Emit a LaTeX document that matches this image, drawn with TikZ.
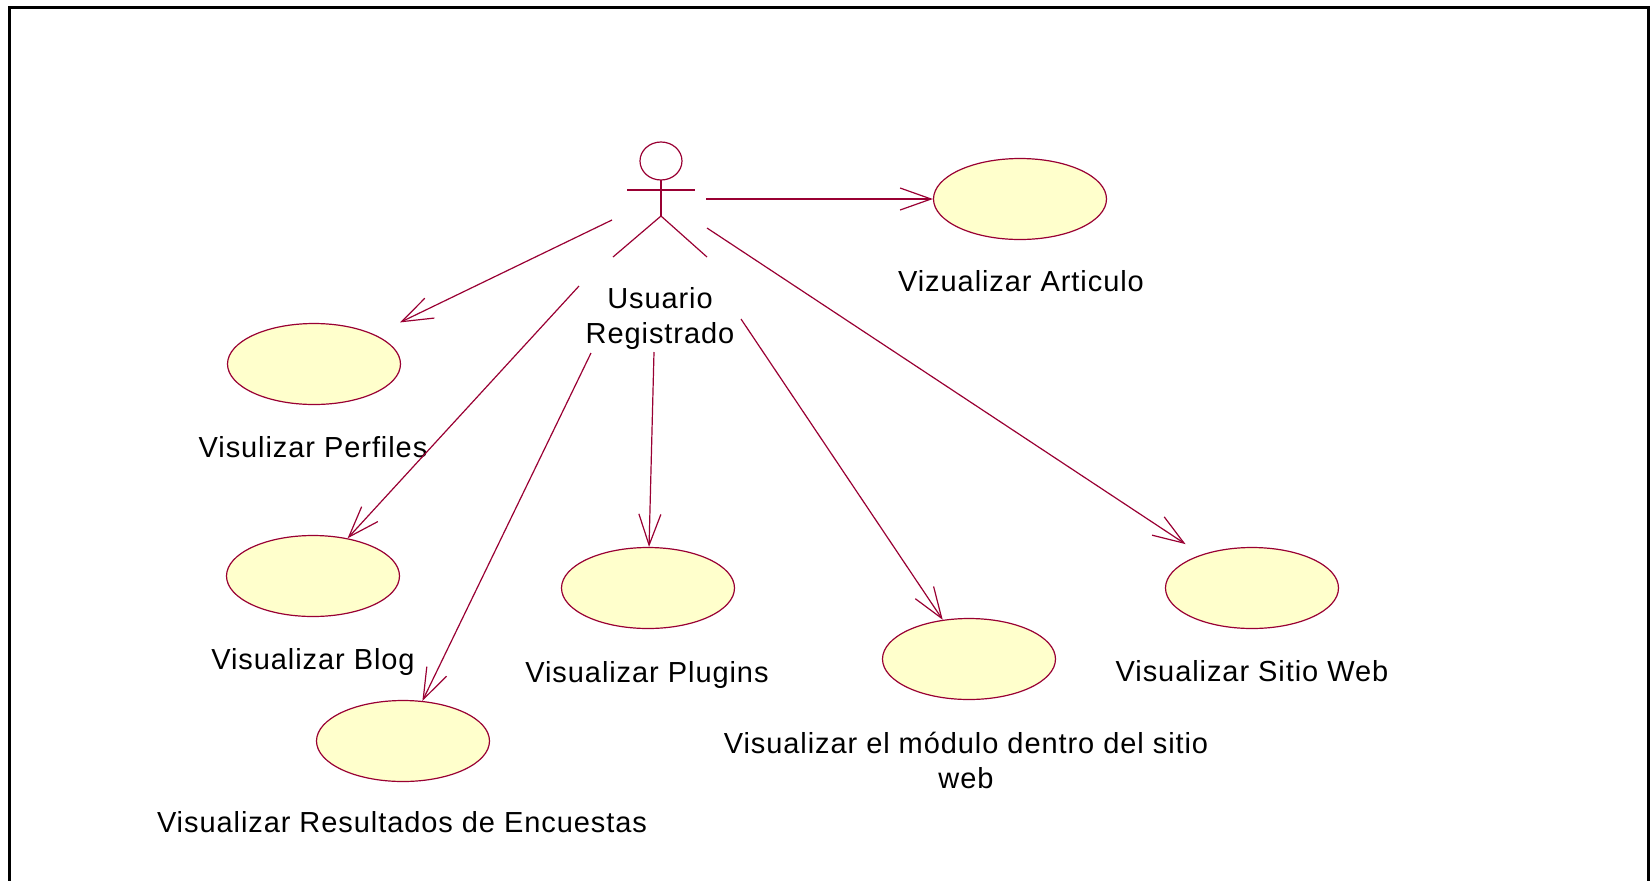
\documentclass[tikz,border=0pt]{standalone}
\usepackage{fontspec}
\setmainfont[LetterSpace=3.2]{Liberation Sans}
\usetikzlibrary{shapes.geometric,arrows.meta}

\definecolor{rosered}{RGB}{153,0,51}
\definecolor{ucyellow}{RGB}{255,255,204}

\tikzset{
  usecase/.style={ellipse,draw=rosered,fill=ucyellow,line width=0.6pt,
    minimum width=86.5pt,minimum height=40.5pt,inner sep=0pt},
  uclabel/.style={inner sep=0pt,font=\fontsize{14.5}{17.5}\selectfont},
  assoc/.style={draw=rosered,line width=0.6pt,
    -{Straight Barb[length=15.5pt,width=11pt]}},
  actorline/.style={draw=rosered,line width=0.6pt}
}

\begin{document}
\begin{tikzpicture}[x=0.5pt,y=-0.5pt]

\useasboundingbox (0,0) rectangle (1651,880);
\clip (0,0) rectangle (1651,880);

\draw[line width=1.5pt] (9,7) rectangle (1648,900);

\draw[actorline] (661,161) ellipse (10.5pt and 9.5pt);
\draw[actorline] (627,190) -- (695,190);
\draw[actorline] (661,180) -- (661,216);
\draw[actorline] (613,257) -- (661,216) -- (707,257);
\node[uclabel,align=center] (usuario) at (660,318) {Usuario\\Registrado};

\node[usecase] (articulo) at (1020,199) {};
\node[usecase] (perfiles) at (314,364) {};
\node[usecase] (blog) at (313,576) {};
\node[usecase] (encuestas) at (403,741) {};
\node[usecase] (plugins) at (648,588) {};
\node[usecase] (modulo) at (969,659) {};
\node[usecase] (sitio) at (1252,588) {};

\node[uclabel,anchor=base] (articulo-txt) at (1021,291) {Vizualizar Articulo};
\node[uclabel,anchor=base] (perfiles-txt) at (313,457) {Visulizar Perfiles};
\node[uclabel,anchor=base] (blog-txt) at (313,669) {Visualizar Blog};
\node[uclabel,anchor=base] (plugins-txt) at (647,682) {Visualizar Plugins};
\node[uclabel,anchor=base] (sitio-txt) at (1252,681) {Visualizar Sitio Web};
\node[uclabel,anchor=base] (encuestas-txt) at (402,832) {Visualizar Resultados de Encuestas};
\node[uclabel,align=center] (modulo-txt) at (966,760) {Visualizar el módulo dentro del sitio\\web};

\coordinate (s-art) at (706,199);
\coordinate (s-perf) at (612,220);
\coordinate (s-blog) at (579,286);
\coordinate (s-enc) at (591,353);
\coordinate (s-plug) at (654,352);
\coordinate (s-mod) at (741,319);
\coordinate (s-sit) at (707,228);

\draw[assoc] (s-art) -- (articulo);
\draw[assoc,shorten >=14pt] (s-perf) -- (perfiles);
\draw[assoc] (s-blog) -- (blog);
\draw[assoc] (s-enc) -- (encuestas);
\draw[assoc] (s-plug) -- (plugins);
\draw[assoc] (s-mod) -- (modulo);
\draw[assoc,shorten >=9.5pt] (s-sit) -- (sitio);

\end{tikzpicture}
\end{document}
